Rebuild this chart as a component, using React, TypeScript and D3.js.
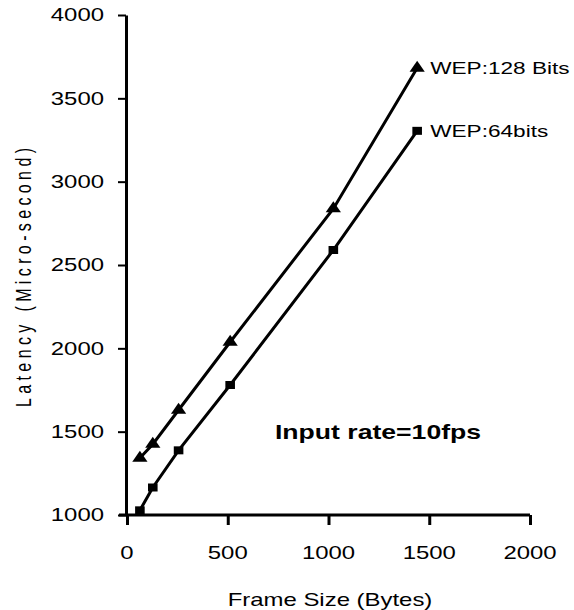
import React, { useEffect, useRef } from 'react'
import * as d3 from 'd3'

// frame sizes (bytes) and latency (micro-second)
const frameSizes = [64, 128, 256, 512, 1024, 1440]
const wep128 = [1342, 1425, 1630, 2038, 2838, 3682]
const wep64 = [1028, 1165, 1388, 1780, 2590, 3305]
const xTicks = [0, 500, 1000, 1500, 2000]
const yTicks = [1000, 1500, 2000, 2500, 3000, 3500, 4000]
const seriesNames = ['WEP:128 Bits', 'WEP:64bits']

const W = 574
const H = 610
const FONT = '"Liberation Sans", Arial, sans-serif'
const SX = 1.33 // text in the figure is stretched horizontally

const App = () => {
  const ref = useRef<SVGSVGElement>(null)

  useEffect(() => {
    const svg = d3.select(ref.current)
    svg.selectAll('*').remove()

    const x = d3.scaleLinear().domain([0, 2000]).range([127, 530])
    const y = d3.scaleLinear().domain([1000, 4000]).range([515, 15])

    const stretched = (g: any, tx: number, ty: number, txt: string, size: number, anchor: string, weight = 'normal') =>
      g.append('g')
        .attr('transform', `translate(${tx},${ty}) scale(${SX},1)`)
        .append('text')
        .attr('font-family', FONT)
        .attr('font-size', size)
        .attr('font-weight', weight)
        .attr('text-anchor', anchor)
        .attr('dominant-baseline', 'central')
        .attr('fill', '#000')
        .text(txt)

    // y axis
    const yAxis = svg.append('g').attr('transform', `translate(${x(0) - 1},0)`)
      .call(d3.axisLeft(y).tickValues(yTicks).tickSize(8).tickSizeOuter(0).tickFormat(() => ''))
    yAxis.select('.domain').attr('stroke', '#000').attr('stroke-width', 3)
    yAxis.selectAll('.tick line').attr('stroke', '#000').attr('stroke-width', 2)
    yTicks.forEach(v => stretched(svg, 104, y(v), String(v), 18, 'end'))

    // x axis
    const xAxis = svg.append('g').attr('transform', `translate(0,${y(1000)})`)
      .call(d3.axisBottom(x).tickValues(xTicks).tickSize(10).tickSizeOuter(0).tickFormat(() => ''))
    xAxis.select('.domain').attr('stroke', '#000').attr('stroke-width', 3)
      .attr('d', `M${x(0) - 8},0H${x(2000)}`)
    xAxis.selectAll('.tick line').attr('stroke', '#000').attr('stroke-width', 3)
    xTicks.forEach(v => stretched(svg, x(v), 553, String(v), 18, 'middle'))

    // axis titles
    stretched(svg, 330, 600, 'Frame Size (Bytes)', 18, 'middle')
    svg.append('text')
      .attr('transform', `translate(24,${(148 + 407) / 2}) rotate(-90) scale(1,${SX})`)
      .attr('font-family', FONT)
      .attr('font-size', 16)
      .attr('text-anchor', 'middle')
      .attr('dominant-baseline', 'central')
      .attr('textLength', 259)
      .attr('lengthAdjust', 'spacing')
      .text('Latency (Micro-second)')

    const line = d3.line<number>().x((_, i) => x(frameSizes[i])).y(d => y(d))

    const series = [wep128, wep64]
    series.forEach((vals, si) => {
      svg.append('path')
        .attr('d', line(vals))
        .attr('fill', 'none')
        .attr('stroke', '#000')
        .attr('stroke-width', 3)

      const sym = d3.symbol().type(si === 0 ? d3.symbolTriangle : d3.symbolSquare).size(si === 0 ? 70 : 64)
      svg.selectAll(null)
        .data(vals)
        .enter()
        .append('path')
        .attr('d', sym)
        .attr('transform', (d, i) => `translate(${x(frameSizes[i])},${y(d)}) scale(1.2,1)`)
        .attr('fill', '#000')

      const last = vals[vals.length - 1]
      stretched(svg, x(frameSizes[frameSizes.length - 1]) + 13, y(last), seriesNames[si], 17, 'start')
    })

    stretched(svg, 378, 432, 'Input rate=10fps', 20, 'middle', 'bold')
  }, [])

  return (
    <svg ref={ref} width={W} height={H} style={{ position: 'absolute', left: 0, top: 0, background: '#fff' }} />
  )
}

export default App
